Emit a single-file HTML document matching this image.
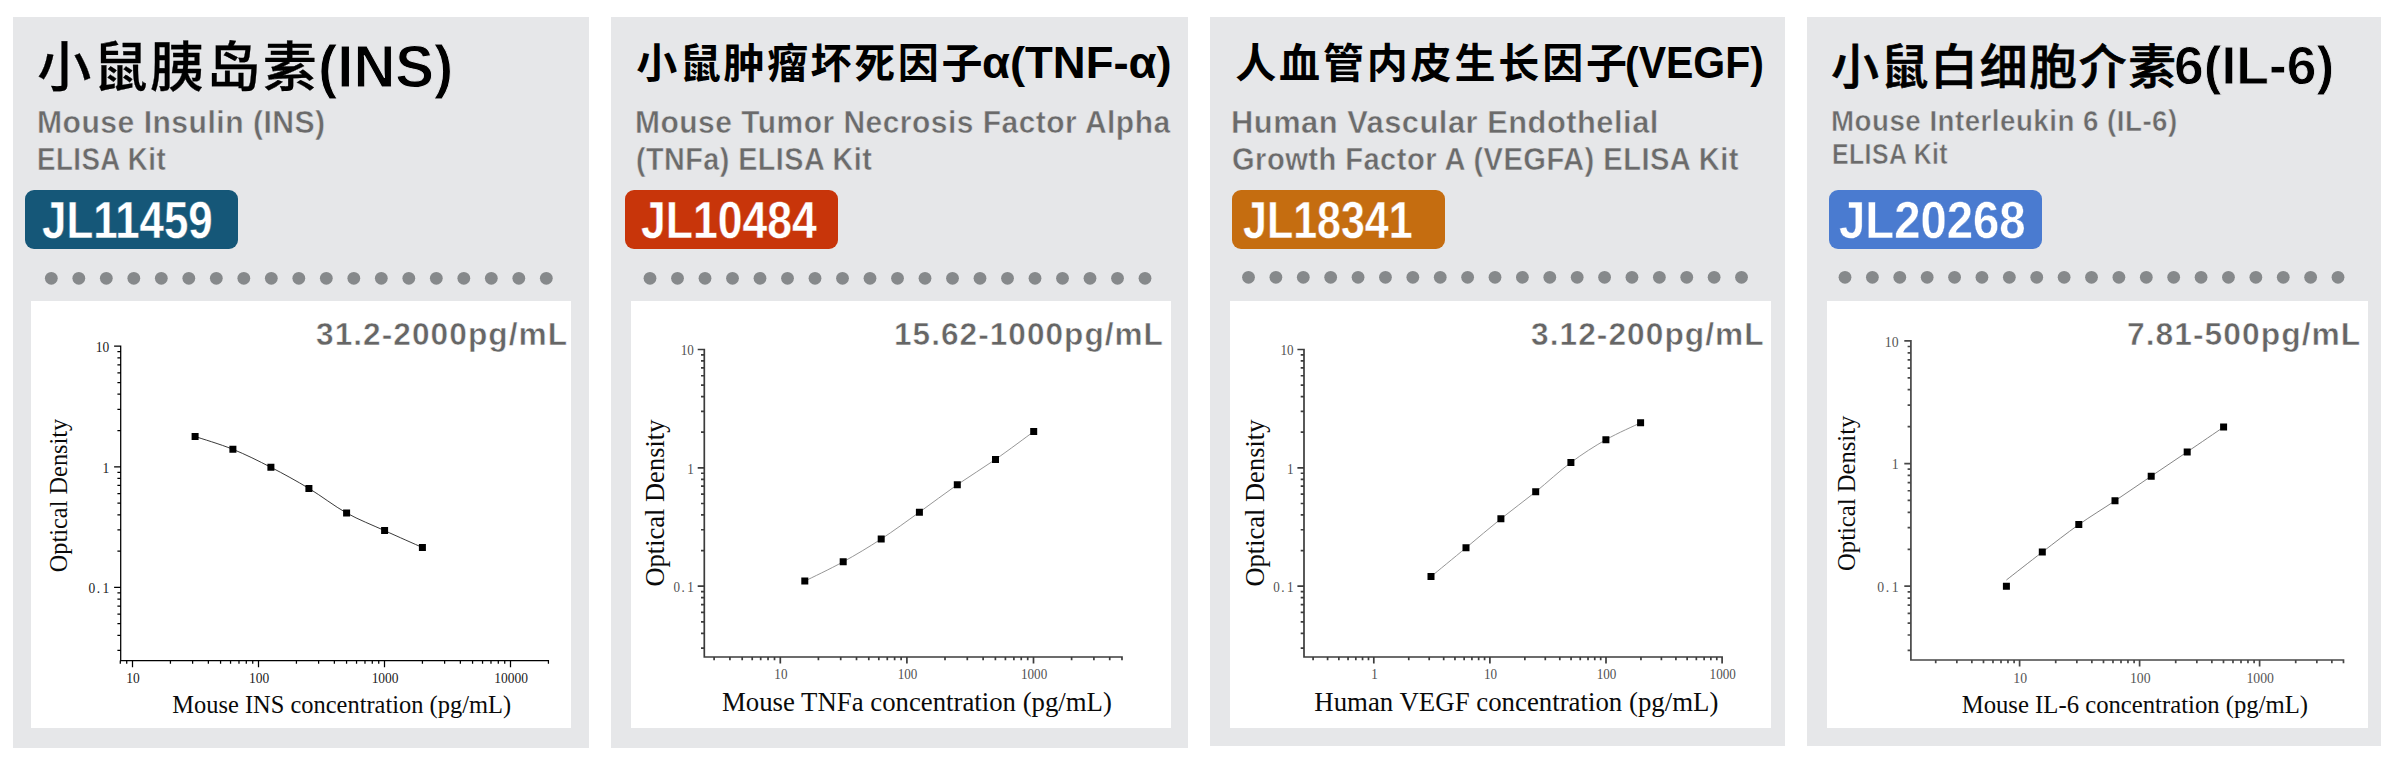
<!DOCTYPE html>
<html lang="zh-CN"><head><meta charset="utf-8">
<title>ELISA Kit standard curves</title>
<style>

html,body{margin:0;padding:0;background:#fff;}
body{width:2400px;height:766px;position:relative;overflow:hidden;font-family:"Liberation Sans", "Noto Sans CJK SC", sans-serif;}
.card{position:absolute;background:#e6e7e9;}
.panel{position:absolute;background:#fff;}
.t{position:absolute;white-space:nowrap;line-height:1;margin:0;padding:0;transform-origin:left center;}
h2.t{font-weight:700;color:#000;font-family:"Liberation Sans", "Noto Sans CJK SC", sans-serif;}
h2.t span{display:inline-block;}
p.sub{font-weight:700;color:#6b6b6b;-webkit-text-stroke:0.5px #e6e7e9;}
.badge{position:absolute;height:59px;border-radius:9px;}
.badge span{position:absolute;left:0;top:0;white-space:nowrap;line-height:1;font-weight:700;color:#fff;transform-origin:left center;display:inline-block;}
.rng{font-weight:700;color:#666;-webkit-text-stroke:0.5px #fff;}
svg.chart,svg.dots{position:absolute;overflow:visible;}

</style></head><body>
<section class="card" style="left:13px;top:17px;width:576px;height:731px">
<h2 class="t" id="title0" style="left:24.2px;top:20.54px;font-size:58.9px"><span id="tc0" style="font-size:54px;letter-spacing:2.4px;position:relative;top:0.3px;font-weight:500;-webkit-text-stroke:0.3px #000">小鼠胰岛素</span><span id="tl0" style="-webkit-text-stroke:1.0px #e6e7e9;transform:scaleX(0.9840);transform-origin:left center;margin-left:-1px">(INS)</span></h2>
<p class="t sub" id="sub0_0" style="left:24px;top:89.87px;font-size:31.4px;letter-spacing:0.5px;transform:scaleX(0.9596)">Mouse Insulin (INS)</p>
<p class="t sub" id="sub0_1" style="left:24px;top:126.77px;font-size:31.4px;letter-spacing:0.5px;transform:scaleX(0.8819)">ELISA Kit</p>
<div class="badge" style="left:12px;top:173px;width:213px;background:#155778"><span id="badge0" style="left:17px;top:4.6px;font-size:51.0px;-webkit-text-stroke:0.4px #155778;transform:scaleX(0.8598)">JL11459</span></div>
<svg class="dots" style="left:0;top:243px" width="576" height="36" viewBox="13 260 576 36" fill="#86898b"><circle cx="51.3" cy="278.3" r="6.4"/><circle cx="78.8" cy="278.3" r="6.4"/><circle cx="106.3" cy="278.3" r="6.4"/><circle cx="133.8" cy="278.3" r="6.4"/><circle cx="161.3" cy="278.3" r="6.4"/><circle cx="188.8" cy="278.3" r="6.4"/><circle cx="216.3" cy="278.3" r="6.4"/><circle cx="243.8" cy="278.3" r="6.4"/><circle cx="271.3" cy="278.3" r="6.4"/><circle cx="298.8" cy="278.3" r="6.4"/><circle cx="326.3" cy="278.3" r="6.4"/><circle cx="353.8" cy="278.3" r="6.4"/><circle cx="381.3" cy="278.3" r="6.4"/><circle cx="408.8" cy="278.3" r="6.4"/><circle cx="436.3" cy="278.3" r="6.4"/><circle cx="463.8" cy="278.3" r="6.4"/><circle cx="491.3" cy="278.3" r="6.4"/><circle cx="518.8" cy="278.3" r="6.4"/><circle cx="546.3" cy="278.3" r="6.4"/></svg>
<div class="panel" style="left:18px;top:284px;width:540px;height:427px">
<p class="t rng" id="rng0" style="left:284.7px;top:18.54px;font-size:30.9px;letter-spacing:1.0px;transform:scaleX(1.0255)">31.2-2000pg/mL</p>
<svg class="chart" style="left:0;top:0" width="540" height="427" viewBox="31 301 540 427" role="img" aria-label="Mouse INS concentration (pg/mL) standard curve">
<path d="M120.7 345.57V660.55H549.05M120.7 650.46h-3.3M120.7 635.39h-3.3M120.7 623.7h-3.3M120.7 614.15h-3.3M120.7 606.08h-3.3M120.7 599.09h-3.3M120.7 592.92h-3.3M120.7 587.4h-6.6M120.7 551.1h-3.3M120.7 529.86h-3.3M120.7 514.79h-3.3M120.7 503.1h-3.3M120.7 493.55h-3.3M120.7 485.48h-3.3M120.7 478.49h-3.3M120.7 472.32h-3.3M120.7 466.8h-6.6M120.7 430.5h-3.3M120.7 409.26h-3.3M120.7 394.19h-3.3M120.7 382.5h-3.3M120.7 372.95h-3.3M120.7 364.88h-3.3M120.7 357.89h-3.3M120.7 351.72h-3.3M120.7 346.2h-6.6M120.29 660.55v3.3M126.73 660.55v3.3M132.5 660.55v6.6M170.43 660.55v3.3M192.62 660.55v3.3M208.36 660.55v3.3M220.57 660.55v3.3M230.55 660.55v3.3M238.98 660.55v3.3M246.29 660.55v3.3M252.73 660.55v3.3M258.5 660.55v6.6M296.43 660.55v3.3M318.62 660.55v3.3M334.36 660.55v3.3M346.57 660.55v3.3M356.55 660.55v3.3M364.98 660.55v3.3M372.29 660.55v3.3M378.73 660.55v3.3M384.5 660.55v6.6M422.43 660.55v3.3M444.62 660.55v3.3M460.36 660.55v3.3M472.57 660.55v3.3M482.55 660.55v3.3M490.98 660.55v3.3M498.29 660.55v3.3M504.73 660.55v3.3M510.5 660.55v6.6M548.43 660.55v3.3" fill="none" stroke="#000" stroke-width="1.25"/>
<g font-family='"Liberation Serif", "Noto Serif CJK SC", serif' font-size="14.2" fill="#1a1a1a">
<text transform="translate(133.1 683.15) scale(0.95 1)" text-anchor="middle">10</text>
<text transform="translate(259.1 683.15) scale(0.95 1)" text-anchor="middle">100</text>
<text transform="translate(385.1 683.15) scale(0.95 1)" text-anchor="middle">1000</text>
<text transform="translate(511.1 683.15) scale(0.95 1)" text-anchor="middle">10000</text>
<text transform="translate(109.3 352) scale(0.95 1)" text-anchor="end">10</text>
<text transform="translate(109.3 472.6) scale(0.95 1)" text-anchor="end">1</text>
<text transform="translate(109.3 593.2) scale(0.95 1)" text-anchor="end" dx="0 1.6 2.6">0.1</text>
</g>
<path d="M195.1 436.5C201.4 438.63 220.27 444.17 232.9 449.3C245.53 454.43 258.23 460.78 270.9 467.3C283.57 473.82 296.28 480.78 308.9 488.4C321.52 496.02 333.98 505.97 346.6 513C359.22 520.03 371.97 524.85 384.6 530.6C397.23 536.35 416.1 544.68 422.4 547.5" fill="none" stroke="#222" stroke-width="0.9"/>
<path d="M191.6 433h7v7h-7zM229.4 445.8h7v7h-7zM267.4 463.8h7v7h-7zM305.4 484.9h7v7h-7zM343.1 509.5h7v7h-7zM381.1 527.1h7v7h-7zM418.9 544h7v7h-7z" fill="#000"/>
<text x="172.3" y="713.3" font-family='"Liberation Serif", "Noto Serif CJK SC", serif' font-size="24.4" fill="#0a0a0a" textLength="338.8" lengthAdjust="spacingAndGlyphs">Mouse INS concentration (pg/mL)</text>
<text transform="translate(66.6 572.25) rotate(-90)" font-family='"Liberation Serif", "Noto Serif CJK SC", serif' font-size="24.4" fill="#0a0a0a" textLength="153.5" lengthAdjust="spacingAndGlyphs">Optical Density</text>
</svg>
</div>
</section>
<section class="card" style="left:611px;top:17px;width:577px;height:731px">
<h2 class="t" id="title1" style="left:25.2px;top:24.1px;font-size:44.3px"><span id="tc1" style="font-size:41px;letter-spacing:2.6px;position:relative;top:0.2px">小鼠肿瘤坏死因子</span><span id="tl1" style="-webkit-text-stroke:0px #e6e7e9;transform:scaleX(1.0264);transform-origin:left center;margin-left:-2.8px">α(TNF-α)</span></h2>
<p class="t sub" id="sub1_0" style="left:23.5px;top:89.87px;font-size:31.4px;letter-spacing:0.5px;transform:scaleX(0.9552)">Mouse Tumor Necrosis Factor Alpha</p>
<p class="t sub" id="sub1_1" style="left:24.5px;top:126.77px;font-size:31.4px;letter-spacing:0.5px;transform:scaleX(0.9156)">(TNFa) ELISA Kit</p>
<div class="badge" style="left:14px;top:173px;width:212.5px;background:#c8350a"><span id="badge1" style="left:16.2px;top:4.6px;font-size:51.0px;-webkit-text-stroke:0.4px #c8350a;transform:scaleX(0.8730)">JL10484</span></div>
<svg class="dots" style="left:0;top:243px" width="577" height="36" viewBox="611 260 577 36" fill="#86898b"><circle cx="650" cy="278.3" r="6.4"/><circle cx="677.5" cy="278.3" r="6.4"/><circle cx="705" cy="278.3" r="6.4"/><circle cx="732.5" cy="278.3" r="6.4"/><circle cx="760" cy="278.3" r="6.4"/><circle cx="787.5" cy="278.3" r="6.4"/><circle cx="815" cy="278.3" r="6.4"/><circle cx="842.5" cy="278.3" r="6.4"/><circle cx="870" cy="278.3" r="6.4"/><circle cx="897.5" cy="278.3" r="6.4"/><circle cx="925" cy="278.3" r="6.4"/><circle cx="952.5" cy="278.3" r="6.4"/><circle cx="980" cy="278.3" r="6.4"/><circle cx="1007.5" cy="278.3" r="6.4"/><circle cx="1035" cy="278.3" r="6.4"/><circle cx="1062.5" cy="278.3" r="6.4"/><circle cx="1090" cy="278.3" r="6.4"/><circle cx="1117.5" cy="278.3" r="6.4"/><circle cx="1145" cy="278.3" r="6.4"/></svg>
<div class="panel" style="left:20px;top:284px;width:540px;height:427px">
<p class="t rng" id="rng1" style="left:262.8px;top:18.54px;font-size:30.9px;letter-spacing:1.0px;transform:scaleX(1.0226)">15.62-1000pg/mL</p>
<svg class="chart" style="left:0;top:0" width="540" height="427" viewBox="631 301 540 427" role="img" aria-label="Mouse TNFa concentration (pg/mL) standard curve">
<path d="M704.3 348.65V657H1122.84M704.3 648.08h-3.3M704.3 633.3h-3.3M704.3 621.83h-3.3M704.3 612.46h-3.3M704.3 604.53h-3.3M704.3 597.67h-3.3M704.3 591.62h-3.3M704.3 586.2h-6.6M704.3 550.57h-3.3M704.3 529.73h-3.3M704.3 514.95h-3.3M704.3 503.48h-3.3M704.3 494.11h-3.3M704.3 486.18h-3.3M704.3 479.32h-3.3M704.3 473.27h-3.3M704.3 467.85h-6.6M704.3 432.22h-3.3M704.3 411.38h-3.3M704.3 396.6h-3.3M704.3 385.13h-3.3M704.3 375.76h-3.3M704.3 367.83h-3.3M704.3 360.97h-3.3M704.3 354.92h-3.3M704.3 349.5h-6.6M714.1 657v3.3M729.92 657v3.3M742.19 657v3.3M752.21 657v3.3M760.69 657v3.3M768.03 657v3.3M774.51 657v3.3M780.3 657v6.6M818.41 657v3.3M840.7 657v3.3M856.52 657v3.3M868.79 657v3.3M878.81 657v3.3M887.29 657v3.3M894.63 657v3.3M901.11 657v3.3M906.9 657v6.6M945.01 657v3.3M967.3 657v3.3M983.12 657v3.3M995.39 657v3.3M1005.41 657v3.3M1013.89 657v3.3M1021.23 657v3.3M1027.71 657v3.3M1033.5 657v6.6M1071.61 657v3.3M1093.9 657v3.3M1109.72 657v3.3M1121.99 657v3.3" fill="none" stroke="#3c3c3c" stroke-width="1.7"/>
<g font-family='"Liberation Serif", "Noto Serif CJK SC", serif' font-size="13.8" fill="#505050">
<text transform="translate(780.9 679) scale(0.95 1)" text-anchor="middle">10</text>
<text transform="translate(907.5 679) scale(0.95 1)" text-anchor="middle">100</text>
<text transform="translate(1034.1 679) scale(0.95 1)" text-anchor="middle">1000</text>
<text transform="translate(693.8 355.16) scale(0.95 1)" text-anchor="end">10</text>
<text transform="translate(693.8 473.51) scale(0.95 1)" text-anchor="end">1</text>
<text transform="translate(693.8 591.86) scale(0.95 1)" text-anchor="end" dx="0 1.6 2.6">0.1</text>
</g>
<path d="M804.8 581.1C811.2 577.88 830.47 568.82 843.2 561.8C855.93 554.78 868.5 547.27 881.2 539C893.9 530.73 906.72 521.25 919.4 512.2C932.08 503.15 944.62 493.5 957.3 484.7C969.98 475.9 982.77 468.25 995.5 459.4C1008.23 450.55 1027.33 436.23 1033.7 431.6" fill="none" stroke="#8a8a8a" stroke-width="0.9"/>
<path d="M801.3 577.6h7v7h-7zM839.7 558.3h7v7h-7zM877.7 535.5h7v7h-7zM915.9 508.7h7v7h-7zM953.8 481.2h7v7h-7zM992 455.9h7v7h-7zM1030.2 428.1h7v7h-7z" fill="#000"/>
<text x="722" y="711.2" font-family='"Liberation Serif", "Noto Serif CJK SC", serif' font-size="26.6" fill="#0a0a0a" textLength="389.9" lengthAdjust="spacingAndGlyphs">Mouse TNFa concentration (pg/mL)</text>
<text transform="translate(663.9 586.6) rotate(-90)" font-family='"Liberation Serif", "Noto Serif CJK SC", serif' font-size="26.5" fill="#0a0a0a" textLength="167" lengthAdjust="spacingAndGlyphs">Optical Density</text>
</svg>
</div>
</section>
<section class="card" style="left:1210px;top:17px;width:575px;height:729px">
<h2 class="t" id="title2" style="left:25.2px;top:24.1px;font-size:44.3px"><span id="tc2" style="font-size:41px;letter-spacing:2.85px;position:relative;top:0.2px">人血管内皮生长因子</span><span id="tl2" style="-webkit-text-stroke:0px #e6e7e9;transform:scaleX(0.9254);transform-origin:left center;margin-left:-5.2px">(VEGF)</span></h2>
<p class="t sub" id="sub2_0" style="left:20.5px;top:89.87px;font-size:31.4px;letter-spacing:0.5px;transform:scaleX(0.9833)">Human Vascular Endothelial</p>
<p class="t sub" id="sub2_1" style="left:21.5px;top:126.77px;font-size:31.4px;letter-spacing:0.5px;transform:scaleX(0.9274)">Growth Factor A (VEGFA) ELISA Kit</p>
<div class="badge" style="left:22px;top:173px;width:213px;background:#c56d10"><span id="badge2" style="left:11px;top:4.6px;font-size:51.0px;-webkit-text-stroke:0.4px #c56d10;transform:scaleX(0.8425)">JL18341</span></div>
<svg class="dots" style="left:0;top:243px" width="575" height="36" viewBox="1210 260 575 36" fill="#86898b"><circle cx="1248.5" cy="277.3" r="6.4"/><circle cx="1275.89" cy="277.3" r="6.4"/><circle cx="1303.28" cy="277.3" r="6.4"/><circle cx="1330.67" cy="277.3" r="6.4"/><circle cx="1358.06" cy="277.3" r="6.4"/><circle cx="1385.45" cy="277.3" r="6.4"/><circle cx="1412.84" cy="277.3" r="6.4"/><circle cx="1440.23" cy="277.3" r="6.4"/><circle cx="1467.62" cy="277.3" r="6.4"/><circle cx="1495.01" cy="277.3" r="6.4"/><circle cx="1522.4" cy="277.3" r="6.4"/><circle cx="1549.79" cy="277.3" r="6.4"/><circle cx="1577.18" cy="277.3" r="6.4"/><circle cx="1604.57" cy="277.3" r="6.4"/><circle cx="1631.96" cy="277.3" r="6.4"/><circle cx="1659.35" cy="277.3" r="6.4"/><circle cx="1686.74" cy="277.3" r="6.4"/><circle cx="1714.13" cy="277.3" r="6.4"/><circle cx="1741.52" cy="277.3" r="6.4"/></svg>
<div class="panel" style="left:20px;top:284px;width:541px;height:427px">
<p class="t rng" id="rng2" style="left:301px;top:18.54px;font-size:30.9px;letter-spacing:1.0px;transform:scaleX(1.0267)">3.12-200pg/mL</p>
<svg class="chart" style="left:0;top:0" width="541" height="427" viewBox="1230 301 541 427" role="img" aria-label="Human VEGF concentration (pg/mL) standard curve">
<path d="M1304 348.65V657H1722.95M1304 648.08h-3.3M1304 633.3h-3.3M1304 621.83h-3.3M1304 612.46h-3.3M1304 604.53h-3.3M1304 597.67h-3.3M1304 591.62h-3.3M1304 586.2h-6.6M1304 550.57h-3.3M1304 529.73h-3.3M1304 514.95h-3.3M1304 503.48h-3.3M1304 494.11h-3.3M1304 486.18h-3.3M1304 479.32h-3.3M1304 473.27h-3.3M1304 467.85h-6.6M1304 432.22h-3.3M1304 411.38h-3.3M1304 396.6h-3.3M1304 385.13h-3.3M1304 375.76h-3.3M1304 367.83h-3.3M1304 360.97h-3.3M1304 354.92h-3.3M1304 349.5h-6.6M1313.09 657v3.3M1327.6 657v3.3M1338.85 657v3.3M1348.04 657v3.3M1355.82 657v3.3M1362.55 657v3.3M1368.49 657v3.3M1373.8 657v6.6M1408.75 657v3.3M1429.19 657v3.3M1443.7 657v3.3M1454.95 657v3.3M1464.14 657v3.3M1471.92 657v3.3M1478.65 657v3.3M1484.59 657v3.3M1489.9 657v6.6M1524.85 657v3.3M1545.29 657v3.3M1559.8 657v3.3M1571.05 657v3.3M1580.24 657v3.3M1588.02 657v3.3M1594.75 657v3.3M1600.69 657v3.3M1606 657v6.6M1640.95 657v3.3M1661.39 657v3.3M1675.9 657v3.3M1687.15 657v3.3M1696.34 657v3.3M1704.12 657v3.3M1710.85 657v3.3M1716.79 657v3.3M1722.1 657v6.6" fill="none" stroke="#3c3c3c" stroke-width="1.7"/>
<g font-family='"Liberation Serif", "Noto Serif CJK SC", serif' font-size="13.8" fill="#505050">
<text transform="translate(1374.4 679) scale(0.95 1)" text-anchor="middle">1</text>
<text transform="translate(1490.5 679) scale(0.95 1)" text-anchor="middle">10</text>
<text transform="translate(1606.6 679) scale(0.95 1)" text-anchor="middle">100</text>
<text transform="translate(1722.7 679) scale(0.95 1)" text-anchor="middle">1000</text>
<text transform="translate(1293.5 355.16) scale(0.95 1)" text-anchor="end">10</text>
<text transform="translate(1293.5 473.51) scale(0.95 1)" text-anchor="end">1</text>
<text transform="translate(1293.5 591.86) scale(0.95 1)" text-anchor="end" dx="0 1.6 2.6">0.1</text>
</g>
<path d="M1431 576.6C1436.83 571.8 1454.35 557.43 1466 547.8C1477.65 538.17 1489.28 528.13 1500.9 518.8C1512.52 509.47 1524.03 501.18 1535.7 491.8C1547.37 482.42 1559.2 471.18 1570.9 462.5C1582.6 453.82 1594.28 446.32 1605.9 439.7C1617.52 433.08 1634.82 425.62 1640.6 422.8" fill="none" stroke="#8a8a8a" stroke-width="0.9"/>
<path d="M1427.5 573.1h7v7h-7zM1462.5 544.3h7v7h-7zM1497.4 515.3h7v7h-7zM1532.2 488.3h7v7h-7zM1567.4 459h7v7h-7zM1602.4 436.2h7v7h-7zM1637.1 419.3h7v7h-7z" fill="#000"/>
<text x="1314.3" y="711.2" font-family='"Liberation Serif", "Noto Serif CJK SC", serif' font-size="26.7" fill="#0a0a0a" textLength="404.1" lengthAdjust="spacingAndGlyphs">Human VEGF concentration (pg/mL)</text>
<text transform="translate(1263.9 586.6) rotate(-90)" font-family='"Liberation Serif", "Noto Serif CJK SC", serif' font-size="26.5" fill="#0a0a0a" textLength="167" lengthAdjust="spacingAndGlyphs">Optical Density</text>
</svg>
</div>
</section>
<section class="card" style="left:1807px;top:17px;width:574px;height:729px">
<h2 class="t" id="title3" style="left:24.3px;top:22.8px;font-size:52.8px"><span id="tc3" style="font-size:47.7px;letter-spacing:1.8px;position:relative;top:0.6px;font-weight:500;-webkit-text-stroke:0.7px #000">小鼠白细胞介素</span><span id="tl3" style="-webkit-text-stroke:0.8px #e6e7e9;transform:scaleX(1.0118);transform-origin:left center;margin-left:-4px">6(IL-6)</span></h2>
<p class="t sub" id="sub3_0" style="left:24.2px;top:89.71px;font-size:29.1px;letter-spacing:0.5px;transform:scaleX(0.9531)">Mouse Interleukin 6 (IL-6)</p>
<p class="t sub" id="sub3_1" style="left:25.2px;top:123.01px;font-size:29.1px;letter-spacing:0.5px;transform:scaleX(0.8534)">ELISA Kit</p>
<div class="badge" style="left:22px;top:173px;width:213px;background:#4a7bd0"><span id="badge3" style="left:10.2px;top:4.6px;font-size:51.0px;-webkit-text-stroke:0.4px #4a7bd0;transform:scaleX(0.9263)">JL20268</span></div>
<svg class="dots" style="left:0;top:243px" width="574" height="36" viewBox="1807 260 574 36" fill="#86898b"><circle cx="1845" cy="277.3" r="6.4"/><circle cx="1872.39" cy="277.3" r="6.4"/><circle cx="1899.78" cy="277.3" r="6.4"/><circle cx="1927.17" cy="277.3" r="6.4"/><circle cx="1954.56" cy="277.3" r="6.4"/><circle cx="1981.95" cy="277.3" r="6.4"/><circle cx="2009.34" cy="277.3" r="6.4"/><circle cx="2036.73" cy="277.3" r="6.4"/><circle cx="2064.12" cy="277.3" r="6.4"/><circle cx="2091.51" cy="277.3" r="6.4"/><circle cx="2118.9" cy="277.3" r="6.4"/><circle cx="2146.29" cy="277.3" r="6.4"/><circle cx="2173.68" cy="277.3" r="6.4"/><circle cx="2201.07" cy="277.3" r="6.4"/><circle cx="2228.46" cy="277.3" r="6.4"/><circle cx="2255.85" cy="277.3" r="6.4"/><circle cx="2283.24" cy="277.3" r="6.4"/><circle cx="2310.63" cy="277.3" r="6.4"/><circle cx="2338.02" cy="277.3" r="6.4"/></svg>
<div class="panel" style="left:20px;top:284px;width:541px;height:427px">
<p class="t rng" id="rng3" style="left:299.8px;top:18.54px;font-size:30.9px;letter-spacing:1.0px;transform:scaleX(1.0293)">7.81-500pg/mL</p>
<svg class="chart" style="left:0;top:0" width="541" height="427" viewBox="1827 301 541 427" role="img" aria-label="Mouse IL-6 concentration (pg/mL) standard curve">
<path d="M1910.9 340.05V660H2344.33M1910.9 650.33h-3.3M1910.9 635.01h-3.3M1910.9 623.12h-3.3M1910.9 613.41h-3.3M1910.9 605.2h-3.3M1910.9 598.09h-3.3M1910.9 591.81h-3.3M1910.9 586.2h-6.6M1910.9 549.28h-3.3M1910.9 527.68h-3.3M1910.9 512.36h-3.3M1910.9 500.47h-3.3M1910.9 490.76h-3.3M1910.9 482.55h-3.3M1910.9 475.44h-3.3M1910.9 469.16h-3.3M1910.9 463.55h-6.6M1910.9 426.63h-3.3M1910.9 405.03h-3.3M1910.9 389.71h-3.3M1910.9 377.82h-3.3M1910.9 368.11h-3.3M1910.9 359.9h-3.3M1910.9 352.79h-3.3M1910.9 346.51h-3.3M1910.9 340.9h-6.6M1935.72 660v3.3M1956.85 660v3.3M1971.85 660v3.3M1983.48 660v3.3M1992.98 660v3.3M2001.01 660v3.3M2007.97 660v3.3M2014.11 660v3.3M2019.6 660v6.6M2055.72 660v3.3M2076.85 660v3.3M2091.85 660v3.3M2103.48 660v3.3M2112.98 660v3.3M2121.01 660v3.3M2127.97 660v3.3M2134.11 660v3.3M2139.6 660v6.6M2175.72 660v3.3M2196.85 660v3.3M2211.85 660v3.3M2223.48 660v3.3M2232.98 660v3.3M2241.01 660v3.3M2247.97 660v3.3M2254.11 660v3.3M2259.6 660v6.6M2295.72 660v3.3M2316.85 660v3.3M2331.85 660v3.3M2343.48 660v3.3" fill="none" stroke="#484848" stroke-width="1.7"/>
<g font-family='"Liberation Serif", "Noto Serif CJK SC", serif' font-size="14.2" fill="#555">
<text transform="translate(2020.2 682.9) scale(0.97 1)" text-anchor="middle">10</text>
<text transform="translate(2140.2 682.9) scale(0.97 1)" text-anchor="middle">100</text>
<text transform="translate(2260.2 682.9) scale(0.97 1)" text-anchor="middle">1000</text>
<text transform="translate(1898.6 346.7) scale(0.97 1)" text-anchor="end">10</text>
<text transform="translate(1898.6 469.35) scale(0.97 1)" text-anchor="end">1</text>
<text transform="translate(1898.6 592) scale(0.97 1)" text-anchor="end" dx="0 1.6 2.6">0.1</text>
</g>
<path d="M2006.4 580C2012.38 575.35 2030.23 561.33 2042.3 552.1C2054.37 542.87 2066.68 533.15 2078.8 524.6C2090.92 516.05 2102.93 508.87 2115 500.8C2127.07 492.73 2139.17 484.35 2151.2 476.2C2163.23 468.05 2175.13 460.08 2187.2 451.9C2199.27 443.72 2217.53 431.23 2223.6 427.1" fill="none" stroke="#777" stroke-width="0.9"/>
<path d="M2002.9 582.8h7v7h-7zM2038.8 548.6h7v7h-7zM2075.3 521.1h7v7h-7zM2111.5 497.3h7v7h-7zM2147.7 472.7h7v7h-7zM2183.7 448.4h7v7h-7zM2220.1 423.6h7v7h-7z" fill="#000"/>
<text x="1961.7" y="713.4" font-family='"Liberation Serif", "Noto Serif CJK SC", serif' font-size="24.7" fill="#0a0a0a" textLength="346.4" lengthAdjust="spacingAndGlyphs">Mouse IL-6 concentration (pg/mL)</text>
<text transform="translate(1855.3 570.95) rotate(-90)" font-family='"Liberation Serif", "Noto Serif CJK SC", serif' font-size="24.6" fill="#0a0a0a" textLength="155.3" lengthAdjust="spacingAndGlyphs">Optical Density</text>
</svg>
</div>
</section>
</body></html>
